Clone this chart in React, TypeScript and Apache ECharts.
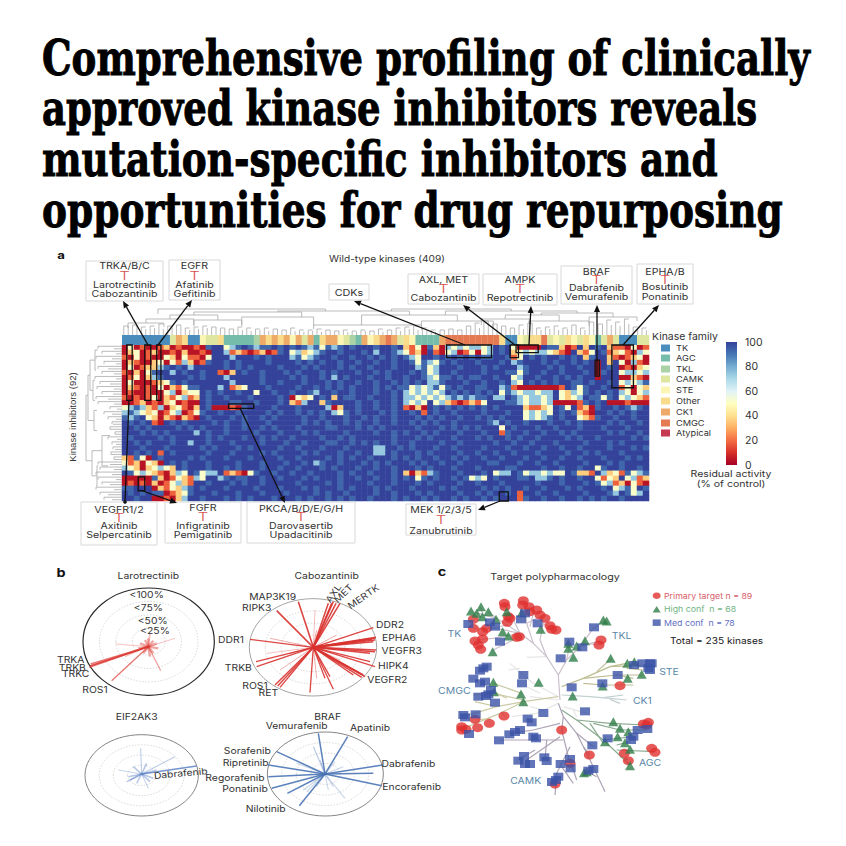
import React, { useEffect, useRef } from "react";
import * as echarts from "echarts";

const titleLines = ["Comprehensive profiling of clinically", "approved kinase inhibitors reveals", "mutation-specific inhibitors and", "opportunities for drug repurposing"];
const titleWidths = [768, 715, 676, 741];
const titleBaselines = [75, 125, 176, 227];

const levelValues = [4, 18, 36, 52, 74, 93, 100];
const heatRows = [
  "0301001201001056634565455656 5654535456566656656 2130 520 4343 4434 656 30 00065 5201626 5621 10301",
  "0230120010200106641210120156 3423456656665646654 3120 610 3401 3034 656 23 43443 2106213 6512 31043",
  "1030100320311036664666565666 4534566566566565656 5436 656 5656 5655 665 13 65656 6565625 6621 01230",
  "0210023031420156656566665666 6565656656656656656 6535 435 6566 6566 656 45 66656 5665656 0626 30410",
  "0301224565646666656565666656 6656566656566566656 6645 346 6656 6656 566 64 56665 6566566 0656 01023",
  "1020356646566566102656656665 6566656566656656566 6565 346 6566 6656 665 53 56656 6566656 0566 34434",
  "0130245666656566646666656666 5656656465666566566 5665 435 5656 5566 566 34 66566 5656566 0666 00210",
  "0300012356566666664666656656 6656665656656656656 5656 445 6665 6656 656 43 65656 5665565 6656 34345",
  "0210103021355666461236665666 6566565656566656565 5343 453 5656 6556 645 10 00000 0165356 6566 13032",
  "0100100340233656566566366566 5665466566566656656 4343 434 6565 6565 635 43 44344 6324356 5656 43034",
  "1010130213412656656665666656 0323656265566566656 4434 343 4545 4556 446 54 34434 6323465 5356 34321",
  "0012010230100656665566566656 2146625666656656656 4343 634 2101 2136 665 54 34434 0000156 5600 01000",
  "3454214023102650001056666566 6566664026656656656 1020 656 5656 5656 566 66 21123 6536120 5665 65456",
  "4543230134013566566566665656 6565656435656665656 6561 656 6566 6656 665 66 34343 6565210 6656 56566",
  "5456320210210656665656656566 6656656665665656656 6656 565 6656 6565 656 66 34345 6566321 5665 66566",
  "6565610656566665656656665666 6656565665656656656 6565 656 6566 6665 465 66 56665 6656566 6656 56656",
  "6656566665656566656656656566 6566665566656565666 6656 665 6565 6566 636 56 66566 5666566 6566 65666",
  "6665656566664656656666566656 6656566665666656656 5665 656 6656 6656 615 66 56656 6565666 6656 56656",
  "6566665656666656566656656566 5666656656566666656 6656 566 6566 6565 665 65 66566 6656566 5666 66565",
  "6656566656646656665666656665 6656665566565656656 6566 665 6656 6666 566 56 65666 5666656 6656 56666",
  "6665666566666565666565666656 6566656665666644665 6566 656 6566 6656 665 66 56656 6566566 6656 66565",
  "6656561656666656665666656566 6656566656656644656 6656 566 6656 6566 566 56 66566 6656656 5666 56666",
  "2153065666656566656665666656 6566665656566566656 5656 656 6565 6656 656 66 56656 6566566 6566 65656",
  "3120320656566656666566656665 6656456656665656566 6565 665 6656 6665 566 65 66566 5666656 6656 56666",
  "4320234326566656656566656656 6566656566656656656 6656 566 6566 6566 665 56 66656 6566566 3566 56656",
  "6534321024365344612103566566 5665666656566566656 2021 456 6656 6656 344 65 34434 3365221 6423 15345",
  "0000052013214366456556656656 6656566656656656656 5635 656 6565 3436 566 65 56445 6566566 3132 63412",
  "0101020134216656665656656666 6566665656666566656 6656 566 6656 6566 656 66 66566 6566656 5341 20310",
  "5566602132456566656666566656 6656566656566656566 6566 665 6566 6656 565 66 56656 6656566 6563 45365",
  "6565655012356665666566656665 6666565665666656656 6656 566 6656 6565 665 61 66566 5666656 6654 65346",
  "6656600102466566656565666566 6565665656566566656 5665 656 6565 6656 566 61 56656 6566565 6566 56666",
];
const columnCount = 88;
const heatColors = ["#a50026", "#d73027", "#f46d43", "#fdae61", "#fee090", "#ffffbf", "#e0f3f8", "#abd9e9", "#74add1", "#4575b4", "#34429a"];

const familyNames = ["TK", "AGC", "TKL", "CAMK", "STE", "Other", "CK1", "CMGC", "Atypical"];
const familyCodes = "TASCLOKMY";
const familyColors = ["#4a8cbc", "#76bcab", "#dfe6a0", "#fbf6b3", "#a9d3a6", "#f8dc8c", "#eeaa68", "#e57a52", "#c53a52"];
const familyLegendColors = ["#4a8cbc", "#76bcab", "#a9d3a6", "#dfe6a0", "#fbf6b3", "#f8dc8c", "#eeaa68", "#e57a52", "#c53a52"];
const familyBand = "TTTTTTTTSKOTTCSSOAAAAALKOKOKCKSKAOKKCSLAKCOKMKSOCAAAAKMMMMMMMMMOTTCSOOMSCSOCSOCASKSTTTSS";

const colorbarTicks = [100];
const blackBoxes = [
  [0.8, 0, 1.7, 11], [3.8, 0, 4.8, 11], [5.8, 0, 6.5, 11], [2.7, 26.2, 3.8, 29], [17.8, 11.7, 22, 12.6],
  [54.2, 0, 61.7, 2.5], [64.8, 0, 66.2, 2.5], [65.8, 0, 69.5, 1.5], [79, 3, 79.7, 6.2], [81.8, 0, 85.4, 8.5], [63, 29.2, 64.5, 31],
];

const topTeeth = [7,9,6,10,8,6,9,7,11,6,8,9,6,10,7,5,8,6,9,7,5,8,6,7,5,6,8,5,7,4,6,5,7,4,5,6,4,5,7,4,5,3,5,4,6,3,4,5,3,4,5,3,4,3,5,4,3,4,6,3,4,5,7,4,8,6,9,5,7,4,5,3,4,5,3,6,4,5,6,9,12,7,10,14,8,11,6,9,5,7,10,6,9,12,7,5,8,6,9,5,7,6,8,10,7,5,9,13,8,11,15,10,13,9,16,11,8,6,7,5];
const topBrackets = [
  [1,7,12,7,8],[4,12,16,12,10],[12,20,15,9,10],[8,16,20,16,15],[20,32,18,9,9],[12,30,23,20,18],[32,50,10,6,5],[50,62,14,9,7],
  [40,56,20,10,14],[26,48,24,23,20],[6,34,26,21,24],[60,68,16,10,12],[68,78,14,10,9],[64,73,20,16,14],[78,86,18,12,14],[70,82,22,20,18],[54,76,24,20,22],[45,65,26,24,24],
];
const sideTeeth = [24,8,20,6,26,10,18,6,24,14,20,8,27,6,22,12,25,8,20,9,26,14,24,8,12,5,18,10,14,6,10,9,8,12,6,7,14,5,10,6,9,7,8,11,6,8,24,12,22,8,26,10,24,6,20,12,26,8,22,14,18,10];
const sideBrackets = [
  [1,5,27,24,26],[7,11,29,27,27],[3,9,32,27,29],[13,17,28,25,25],[6,15,34,32,28],[18,24,20,12,14],[24,28,25,24,26],[21,26,30,20,25],[10,23,36,34,30],
];

const larotrectinibSpokes = [[120,318,1.8,0.9],[118,322,1.4,0.7],[122,312,1.4,0.7],[185,362,1.3,0.7],[332,332,1.3,0.45],[375,235,0.9,0.35],[198,252,0.9,0.35],[225,290,1,0.35],[300,220,1.6,0.35],[270,250,2.4,0.45],[320,250,2.4,0.45],[310,280,2.4,0.45],[280,280,2.4,0.45],[295,235,2.4,0.45],[300,290,2.4,0.45],[265,265,2.4,0.45],[325,265,2.4,0.45],[285,240,2.4,0.45],[310,242,2.4,0.45]];
const cabozantinibSpokes = [[745,125,1.6,0.9],[680,152,1.6,0.9],[600,238,1.3,0.9],[618,305,1.4,0.9],[620,320,1.4,0.9],[675,375,1.4,0.9],[690,382,1.4,0.9],[683,378,1.4,0.9],[780,398,1.3,0.9],[850,388,1.3,0.9],[825,355,1.3,0.9],[840,350,1.3,0.9],[945,350,1.5,0.9],[940,345,1.5,0.9],[930,340,1.5,0.9],[935,352,1.5,0.9],[910,345,1.5,0.9],[975,320,1.2,0.9],[960,305,1.2,0.9],[975,275,1.5,0.9],[978,270,1.5,0.9],[960,280,1.5,0.9],[975,240,1.5,0.9],[978,232,1.5,0.9],[975,235,1.5,0.9],[970,245,1.5,0.9],[965,238,1.5,0.9],[970,203,1.2,0.9],[845,130,1.5,0.9],[858,130,1.5,0.9],[870,130,1.5,0.9],[850,125,1.5,0.9],[835,130,1.5,0.9],[660,235,1,0.4],[690,330,1,0.4],[715,350,1,0.4],[720,280,1,0.4],[800,355,1,0.4],[860,225,1,0.4],[800,210,1,0.4],[795,150,1,0.3],[870,300,1,0.4],[650,280,1,0.3]];
const eif2ak3Spokes = [[440,618,1.6,0.85],[375,590,1.1,0.4],[272,565,1.1,0.4],[205,630,0.9,0.4],[295,685,1,0.4],[230,665,1.6,0.4],[240,660,1.6,0.4],[310,655,1.6,0.45],[320,630,1.6,0.4],[250,620,1.6,0.45],[290,610,1.6,0.45],[235,650,1.6,0.45],[300,665,1.6,0.45],[260,670,1.6,0.4]];
const brafSpokes = [[805,520,1.5,0.9],[893,530,1.5,0.9],[680,575,1.5,0.9],[655,615,1.5,0.9],[655,650,1.5,0.9],[665,685,1.5,0.9],[748,737,1.5,0.9],[712,700,1.5,0.9],[998,615,1.5,0.9],[970,640,1.5,0.9],[995,677,1.5,0.9],[790,560,1.3,0.35],[740,610,1.1,0.3],[760,690,1.1,0.3],[885,715,1.1,0.3],[835,690,1.1,0.3],[880,620,1.1,0.3],[810,600,1.1,0.3],[855,605,1.1,0.3],[770,695,1.1,0.3],[850,680,1.1,0.3],[800,680,1.1,0.3]];
const radarCenters = [[295,260],[790,262],[275,642],[825,642]];
const radarColors = ["#dd3b35", "#d8322f", "#5b83c6", "#4a74b5"];
const radarOuter = [[296,245,197,161],[789,262,191,146],[275,646,170,122],[826,642,174,126]];
const outerColors = ["#2a2a2a", "#8d8d8d", "#666666", "#666666"];
const ringFractions = [0.25, 0.5, 0.75];

const primaryTargets = [[223,130],[225,140],[280,122],[278,135],[297,140],[320,150],[300,155],[330,165],[345,175],[235,170],[240,175],[232,187],[130,178],[130,205],[158,215],[170,205],[158,237],[135,243],[145,255],[152,268],[360,197],[365,208],[378,210],[268,230],[260,232],[513,240],[507,255],[570,377],[222,468],[178,490],[135,478],[95,500],[95,510],[108,508],[143,503],[395,510],[478,585],[420,610],[375,672],[655,487],[640,492],[650,495],[665,565],[675,577],[583,580],[595,602]];
const highConfidence = [[123,153],[153,140],[175,155],[140,160],[157,170],[198,178],[230,155],[275,158],[218,215],[235,228],[332,208],[188,275],[520,180],[530,183],[415,250],[415,265],[465,242],[440,258],[430,292],[542,295],[592,310],[613,305],[635,343],[593,355],[518,378],[428,408],[326,367],[190,367],[192,395],[273,402],[280,425],[550,485],[570,505],[595,515],[563,530],[525,545],[585,548],[600,568],[600,617],[462,638],[470,635]];
const mediumConfidence = [[115,192],[180,187],[195,200],[273,178],[285,160],[323,190],[210,245],[492,202],[418,245],[457,262],[392,295],[170,320],[160,325],[150,332],[130,356],[165,365],[150,370],[183,390],[175,403],[168,408],[145,410],[195,428],[280,345],[276,370],[425,382],[563,345],[517,370],[612,315],[637,310],[660,310],[665,310],[655,325],[660,330],[340,459],[465,454],[137,463],[100,465],[105,472],[293,476],[305,487],[117,522],[207,541],[238,523],[255,516],[270,510],[310,530],[318,535],[487,556],[533,535],[623,510],[652,507],[610,530],[603,540],[282,588],[265,602],[285,612],[300,612],[343,592],[350,603],[392,612],[420,597],[422,625],[490,627],[475,632],[385,650],[378,660],[366,666]];

const treeBranches: [string, number[][][]][] = [
  ["#e6e6e6", [[[385,410],[310,370],[240,310]],[[385,430],[320,460],[245,470]],[[400,440],[470,460]],[[385,420],[300,410]],[[350,290],[290,292]],[[330,400],[290,380]],[[310,370],[270,340]],[[340,450],[300,440]],[[430,450],[440,470]],[[270,325],[235,330]]]],
  ["#c9c0cc", [[[390,420],[385,345],[350,290],[310,250],[270,220],[200,175],[125,155]],[[310,250],[290,190],[285,140]],[[270,220],[240,160]],[[350,290],[330,240],[340,190],[370,210]],[[270,220],[190,235],[135,240]],[[250,240],[185,272]],[[270,220],[200,205],[130,205]],[[230,195],[160,210]],[[290,190],[330,170]],[[200,175],[175,155]],[[160,165],[150,140]],[[240,160],[225,130]],[[300,200],[310,160]]]],
  ["#cdbfc8", [[[385,345],[410,300],[450,260],[500,245]],[[410,300],[420,250]],[[450,260],[490,205],[525,182]],[[440,275],[465,245]],[[470,250],[510,255]]]],
  ["#bdbd92", [[[395,380],[460,355],[540,320],[660,315]],[[460,355],[560,345],[640,345]],[[460,370],[520,375],[610,375]],[[540,320],[590,310]],[[500,335],[545,295]],[[560,345],[610,355]],[[590,325],[640,330]]]],
  ["#c3d0d0", [[[395,405],[480,410],[540,415],[590,420]],[[520,413],[580,405]],[[540,418],[570,430]]]],
  ["#8aab90", [[[395,450],[440,480],[540,490],[650,495]],[[440,480],[520,540],[600,615]],[[490,490],[570,510],[650,510]],[[520,540],[610,530]],[[560,570],[675,575]],[[480,490],[520,550]],[[560,555],[600,545]],[[570,590],[595,600]]]],
  ["#ada3b6", [[[385,430],[400,470],[440,520],[480,600],[525,695]],[[400,470],[395,510],[420,610]],[[420,560],[380,640],[375,705]],[[400,540],[310,540],[210,540]],[[390,490],[310,510],[240,520]],[[440,520],[490,560]],[[420,600],[440,660]],[[390,530],[290,600]],[[350,540],[345,600]],[[460,560],[480,585]],[[500,650],[480,640]],[[395,620],[430,670]],[[315,570],[265,600]]]],
  ["#cbcba6", [[[385,410],[280,425],[200,440],[135,425]],[[280,425],[210,460],[100,505]],[[280,420],[190,400],[130,405]],[[275,400],[190,370]],[[200,440],[100,470]],[[230,415],[180,390]],[[180,475],[140,480]],[[215,455],[225,470]]]],
];

const calloutBoxes: [number, number, number, number, string[], number[]][] = [
  [86, 261, 77, 40, ["TRKA/B/C", "Larotrectinib", "Cabozantinib"], [266, 276, 285, 294]],
  [169, 260, 51, 40, ["EGFR", "Afatinib", "Gefitinib"], [266, 276, 285, 294]],
  [408, 274, 71, 30, ["AXL, MET", "Cabozantinib"], [280, 289, 298]],
  [483, 274, 74, 31, ["AMPK", "Repotrectinib"], [280, 289, 298]],
  [561, 266, 71, 38, ["BRAF", "Dabrafenib", "Vemurafenib"], [272, 280, 288, 297]],
  [637, 264, 56, 40, ["EPHA/B", "Bosutinib", "Ponatinib"], [272, 280, 287, 297]],
  [81, 502, 76, 43, ["VEGFR1/2", "Axitinib", "Selpercatinib"], [510, 518, 526, 535]],
  [165, 502, 76, 41, ["FGFR", "Infigratinib", "Pemigatinib"], [508, 517, 526, 535]],
  [247, 502, 108, 41, ["PKCA/B/D/E/G/H", "Darovasertib", "Upadacitinib"], [509, 517, 526, 535]],
  [406, 504, 70, 31, ["MEK 1/2/3/5", "Zanubrutinib"], [510, 520, 531]],
];
const arrows = [[148,345,123,301],[158,345,192,300],[465,345,354,301],[515,345,463,305],[529,345,531,306],[597,375,597,305],[623,345,659,305],[140,490,177,503],[240,408,285,503],[500,501,478,510]];

const radarLabels: [string, number, number, number?][] = [
  ["Larotrectinib",295,47],["Cabozantinib",830,47],["EIF2AK3",260,470],["BRAF",833,470],
  ["<100%",290,103],["<75%",295,143],["<50%",308,182],["<25%",315,213],["TRKA",62,300],["TRKB",67,322],["TRKC",77,342],["ROS1",135,388],
  ["MAP3K19",668,110],["RIPK3",620,143],["DDR1",543,240],["TRKB",565,322],["ROS1",615,378],["RET",655,397],["DDR2",1020,193],["EPHA6",1047,232],["VEGFR3",1055,273],["HIPK4",1030,318],["VEGFR2",1012,360],
  ["AXL",850,100,55],["MET",880,100,45],["MERTK",940,110,35],
  ["Dabrafenib",392,640,5],["Vemurafenib",740,497],["Apatinib",960,503],["Sorafenib",592,572],["Ripretinib",587,608],["Regorafenib",555,652],["Ponatinib",585,687],["Nilotinib",647,747],["Dabrafenib",1075,612],["Encorafenib",1085,680],
];
const treeLabels: [string, number, number][] = [["TK",73,220],["TKL",575,225],["STE",717,333],["CK1",637,420],["AGC",660,608],["CAMK",287,662],["CMGC",73,392]];
const legendEntries: [string, string][] = [["Primary target n = 89", "#d9606a"], ["High conf  n = 68", "#72b585"], ["Med conf  n = 78", "#5f6fc0"]];

const FONT = "Inter, 'Noto Sans', sans-serif";

function txt(text: string, x: number, y: number, o: any = {}) {
  const { size = 9, color = "#333", align = "center", weight = "normal", family = FONT, rotation = 0, scaleX = 1, stroke, lineWidth } = o;
  const style: any = { text, fill: color, fontSize: size, fontWeight: weight, fontFamily: family, align, verticalAlign: "middle", textAlign: align, textVerticalAlign: "middle" };
  if (stroke) { style.stroke = stroke; style.lineWidth = lineWidth; }
  return { type: "text", x, y, rotation, scaleX, z: 20, silent: true, style };
}

function arrowElements(x1: number, y1: number, x2: number, y2: number) {
  const a = Math.atan2(y2 - y1, x2 - x1);
  const l = 7, w = 3;
  const bx = x2 - l * Math.cos(a), by = y2 - l * Math.sin(a);
  return [
    { type: "line", z: 19, silent: true, shape: { x1, y1, x2: bx, y2: by }, style: { stroke: "#111", lineWidth: 1.3 } },
    { type: "polygon", z: 19, silent: true, shape: { points: [[x2, y2], [bx + w * Math.sin(a), by - w * Math.cos(a)], [bx - w * Math.sin(a), by + w * Math.cos(a)]] }, style: { fill: "#111" } },
  ];
}

function buildGraphics() {
  const els: any[] = [];
  const ctx = document.createElement("canvas").getContext("2d")!;
  const family = "'DejaVu Serif', serif";
  ctx.font = `bold 49px ${family}`;
  titleLines.forEach((t, i) => {
    const scaleX = titleWidths[i] / ctx.measureText(t).width;
    els.push(txt(t, 42, titleBaselines[i] - 17, { size: 49, weight: "bold", family, color: "#000", align: "left", scaleX, stroke: "#000", lineWidth: 1 }));
  });
  els.push(txt("a", 61, 255, { weight: "bold", size: 11, color: "#111", scaleX: 1.2 }));
  els.push(txt("b", 61, 572, { weight: "bold", size: 12, color: "#111", scaleX: 1.2 }));
  els.push(txt("c", 442, 571, { weight: "bold", size: 12, color: "#111", scaleX: 1.2 }));
  els.push(txt("Wild-type kinases (409)", 387, 259, { size: 9, scaleX: 1.13 }));
  els.push(txt("Kinase inhibitors (92)", 72, 417, { size: 9.5, rotation: Math.PI / 2, family: "'Liberation Sans Narrow','Liberation Sans',sans-serif" }));
  els.push({ type: "rect", z: 17, silent: true, shape: { x: 329, y: 284, width: 40, height: 16 }, style: { fill: "#fff", stroke: "#d8d8d8", lineWidth: 1 } });
  els.push(txt("CDKs", 349, 292, { scaleX: 1.2 }));
  calloutBoxes.forEach(([x, y, w, h, lines, ys]) => {
    els.push({ type: "rect", z: 17, silent: true, shape: { x, y, width: w, height: h }, style: { fill: "#fff", stroke: "#d8d8d8", lineWidth: 1 } });
    const cx = x + w / 2;
    els.push(txt(lines[0], cx, ys[0], { size: 8.5, scaleX: 1.25 }));
    els.push(txt("T", cx, ys[1], { size: 11, color: "#d9534f", weight: 300, scaleX: 1.5 }));
    lines.slice(1).forEach((l, i) => els.push(txt(l, cx, ys[i + 2], { size: 8.5, scaleX: 1.25 })));
  });
  arrows.forEach(([a, b, c, d]) => els.push(...arrowElements(a, b, c, d)));
  els.push({ type: "line", z: 19, silent: true, shape: { x1: 129, y1: 400, x2: 125, y2: 502 }, style: { stroke: "#111", lineWidth: 1.3 } });
  els.push({ type: "circle", z: 19, silent: true, shape: { cx: 125, cy: 502, r: 1.8 }, style: { fill: "#111" } });
  els.push(txt("Kinase family", 652, 336, { align: "left", size: 9.5, scaleX: 1.1 }));
  const legendYs = [348, 358, 369, 379, 390, 401, 412, 423, 433];
  familyNames.forEach((n, i) => {
    els.push({ type: "rect", z: 17, silent: true, shape: { x: 661, y: legendYs[i] - 3.5, width: 9, height: 7 }, style: { fill: familyLegendColors[i] } });
    els.push(txt(n, 676, legendYs[i], { align: "left", size: 8, scaleX: 1.15 }));
  });
  els.push(txt("Residual activity", 731, 474, { size: 9, scaleX: 1.17 }));
  els.push(txt("(% of control)", 731, 484, { size: 9, scaleX: 1.17 }));
  radarLabels.forEach(([t, x, y, rot]) => {
    els.push(txt(t, 50 + x / 3, 560 + y / 3, { size: 9, scaleX: 1.15, rotation: rot ? (rot * Math.PI) / 180 : 0 }));
  });
  treeLabels.forEach(([t, x, y]) => els.push(txt(t, 430 + x / 3, 560 + y / 3, { color: "#5b87a8", size: 9.5, scaleX: 1.1 })));
  els.push(txt("Target polypharmacology", 555, 576, { size: 9, scaleX: 1.19 }));
  legendEntries.forEach(([t, c], i) => els.push(txt(t, 664, [596, 609, 623][i], { align: "left", color: c, size: 8, scaleX: 1.1 })));
  els.push(txt("Total = 235 kinases", 670, 641, { align: "left", size: 8.5, color: "#222", scaleX: 1.19 }));
  return els;
}

function hiddenAxis(gridIndex: number, min: number, max: number, inverse = false) {
  return { type: "value", gridIndex, min, max, inverse, show: false, splitLine: { show: false }, scale: true };
}

function buildOption() {
  const rows = heatRows.map((r) => r.replace(/ /g, "").padEnd(columnCount, "6"));
  const heat: number[][] = [];
  rows.forEach((r, y) => { for (let x = 0; x < columnCount; x++) heat.push([x, y, levelValues[+r[x]]]); });
  const idx = (arr: any[]) => arr.map((_, i) => [i, 0]);
  const seg = (api: any, a: number[], b: number[], style: any) => {
    const p = api.coord(a), q = api.coord(b);
    return { type: "line", shape: { x1: p[0], y1: p[1], x2: q[0], y2: q[1] }, style };
  };
  const grey = { stroke: "#a9a9a9", lineWidth: 0.8, fill: null };
  const allSpokes = [larotrectinibSpokes, cabozantinibSpokes, eif2ak3Spokes, brafSpokes];
  const topX = (i: number) => (i * columnCount) / topTeeth.length;
  const sideY = (i: number) => (i * heatRows.length) / sideTeeth.length;
  const treeLines: { c: string; p: number[][] }[] = [];
  treeBranches.forEach(([c, ls]) => ls.forEach((p) => treeLines.push({ c, p })));
  const grids = [
    { left: 122, top: 345, width: 527, height: 156 },
    { left: 122, top: 345, width: 527, height: 156 },
    { left: 122, top: 305, width: 527, height: 40 },
    { left: 85, top: 345, width: 37, height: 156 },
    { left: 726, top: 342, width: 11, height: 123 },
    { left: 50, top: 560, width: 380, height: 270 },
    { left: 430, top: 560, width: 370, height: 270 },
  ];
  const xAxis: any[] = [
    { type: "category", gridIndex: 0, show: false, data: Array.from({ length: columnCount }, (_, i) => i) },
    hiddenAxis(1, 0, columnCount),
    hiddenAxis(2, 0, columnCount),
    hiddenAxis(3, 0, 37, true),
    { type: "category", gridIndex: 4, show: false, data: ["activity"] },
    hiddenAxis(5, 0, 1140),
    hiddenAxis(6, 0, 1110),
  ];
  const yAxis: any[] = [
    { type: "category", gridIndex: 0, show: false, inverse: true, data: heatRows.map((_, i) => i) },
    hiddenAxis(1, 0, heatRows.length, true),
    hiddenAxis(2, 0, 40),
    hiddenAxis(3, 0, heatRows.length, true),
    {
      type: "value", gridIndex: 4, min: 0, max: 100, interval: 20, position: "right",
      axisLine: { show: false }, axisTick: { show: false }, splitLine: { show: false },
      axisLabel: { fontFamily: FONT, fontSize: 10.5, color: "#333", margin: 8 },
    },
    hiddenAxis(5, 0, 810, true),
    hiddenAxis(6, 0, 810, true),
  ];
  const custom = (i: number, data: any[], renderItem: any, extra: any = {}) => ({
    type: "custom", xAxisIndex: i, yAxisIndex: i, data, renderItem, silent: true, clip: false, animation: false, ...extra,
  });
  const series: any[] = [
    { type: "heatmap", xAxisIndex: 0, yAxisIndex: 0, data: heat, silent: true, progressive: 0, emphasis: { disabled: true } },
    custom(1, blackBoxes, (_: any, api: any) => {
      const p = api.coord([api.value(0), api.value(1)]), q = api.coord([api.value(2), api.value(3)]);
      return { type: "rect", shape: { x: p[0], y: p[1], width: q[0] - p[0], height: q[1] - p[1] }, style: { fill: "rgba(0,0,0,0)", stroke: "#111", lineWidth: 1.3 } };
    }, { z: 5 }),
    custom(2, idx(familyBand.split("")), (params: any, api: any) => {
      const i = params.dataIndex;
      const p = api.coord([i, 10]), q = api.coord([i + 1, 0]);
      const c = familyColors[familyCodes.indexOf(familyBand[i])] || "#ddd";
      return { type: "rect", shape: { x: p[0], y: p[1], width: q[0] - p[0] + 0.3, height: q[1] - p[1] }, style: { fill: c } };
    }),
    custom(2, idx(topTeeth), (params: any, api: any) => {
      const i = params.dataIndex, h = topTeeth[i], x = topX(i) + 0.3;
      const children: any[] = [seg(api, [x, 10], [x, 10 + h], grey)];
      if (i % 2 === 0 && i + 1 < topTeeth.length) {
        const nx = topX(i + 1) + 0.3, top = 10 + Math.max(h, topTeeth[i + 1]);
        children.push(seg(api, [x, top], [nx, top], grey), seg(api, [x, 10 + h], [x, top], grey));
      }
      return { type: "group", children };
    }),
    custom(2, topBrackets, (params: any, api: any) => {
      const [a, b, h, h0, h1] = topBrackets[params.dataIndex];
      return { type: "group", children: [seg(api, [a, 10 + h], [b, 10 + h], grey), seg(api, [a, 10 + h0], [a, 10 + h], grey), seg(api, [b, 10 + h1], [b, 10 + h], grey)] };
    }),
    custom(3, idx(sideTeeth), (params: any, api: any) => {
      const i = params.dataIndex, d = sideTeeth[i], y = sideY(i) + 0.25;
      const children: any[] = [seg(api, [0, y], [d, y], grey)];
      if (i % 2 === 0 && i + 1 < sideTeeth.length) {
        const m = Math.max(d, sideTeeth[i + 1]);
        children.push(seg(api, [m, y], [m, sideY(i + 1) + 0.25], grey), seg(api, [d, y], [m, y], grey));
      }
      return { type: "group", children };
    }),
    custom(3, sideBrackets, (params: any, api: any) => {
      const [a, b, d, d0, d1] = sideBrackets[params.dataIndex];
      return { type: "group", children: [seg(api, [d, a], [d, b], grey), seg(api, [d0, a], [d, a], grey), seg(api, [d1, b], [d, b], grey)] };
    }),
    {
      type: "bar", xAxisIndex: 4, yAxisIndex: 4, data: colorbarTicks, barWidth: "100%", silent: true,
      itemStyle: { color: { type: "linear", x: 0, y: 1, x2: 0, y2: 0, colorStops: heatColors.map((c, i) => ({ offset: i / (heatColors.length - 1), color: c })) } },
    },
    custom(5, radarOuter, (params: any, api: any) => {
      const [cx, cy, rx, ry] = radarOuter[params.dataIndex];
      const c = api.coord([cx, cy]);
      const s = api.size([rx, ry]);
      const children: any[] = ringFractions.map((f) => ({
        type: "ellipse", shape: { cx: c[0], cy: c[1], rx: s[0] * f, ry: s[1] * f },
        style: { fill: "rgba(0,0,0,0)", stroke: "#d2d2d2", lineWidth: 0.8, lineDash: [1.5, 1.5] },
      }));
      children.push({ type: "ellipse", shape: { cx: c[0], cy: c[1], rx: s[0], ry: s[1] }, style: { fill: "rgba(0,0,0,0)", stroke: outerColors[params.dataIndex], lineWidth: params.dataIndex === 0 ? 1.2 : 0.8 } });
      return { type: "group", children };
    }),
    ...allSpokes.map((spokes, k) =>
      custom(5, spokes, (_: any, api: any) => seg(api, radarCenters[k], [api.value(0), api.value(1)], { stroke: radarColors[k], lineWidth: api.value(2), opacity: api.value(3) }))
    ),
    custom(6, idx(treeLines), (params: any, api: any) => {
      const t = treeLines[params.dataIndex];
      return { type: "polyline", shape: { points: t.p.map((q) => api.coord(q)) }, style: { stroke: t.c, lineWidth: 1.2, fill: null, lineJoin: "round" } };
    }),
    { type: "scatter", xAxisIndex: 6, yAxisIndex: 6, data: primaryTargets, symbol: "circle", symbolSize: [11, 9], itemStyle: { color: "#e0312f" }, silent: true, z: 4 },
    { type: "scatter", xAxisIndex: 6, yAxisIndex: 6, data: highConfidence, symbol: "triangle", symbolSize: [10, 9], itemStyle: { color: "#2f7d48" }, silent: true, z: 4 },
    { type: "scatter", xAxisIndex: 6, yAxisIndex: 6, data: mediumConfidence, symbol: "rect", symbolSize: [10, 8], itemStyle: { color: "#3b52a6" }, silent: true, z: 4 },
    { type: "scatter", xAxisIndex: 6, yAxisIndex: 6, data: [[680, 107]], symbol: "circle", symbolSize: [8, 6.5], itemStyle: { color: "#e0312f" }, silent: true, z: 4 },
    { type: "scatter", xAxisIndex: 6, yAxisIndex: 6, data: [[680, 148]], symbol: "triangle", symbolSize: [8, 6.5], itemStyle: { color: "#2f7d48" }, silent: true, z: 4 },
    { type: "scatter", xAxisIndex: 6, yAxisIndex: 6, data: [[680, 188]], symbol: "rect", symbolSize: [8, 6.5], itemStyle: { color: "#3b52a6" }, silent: true, z: 4 },
  ];
  return {
    animation: false,
    backgroundColor: "#fff",
    grid: grids,
    xAxis,
    yAxis,
    visualMap: { show: false, seriesIndex: 0, min: 0, max: 100, inRange: { color: heatColors }, dimension: 2 },
    series,
    graphic: { elements: buildGraphics() },
  };
}

export default function App() {
  const ref = useRef<HTMLDivElement>(null);
  useEffect(() => {
    document.body.style.margin = "0";
    const chart = echarts.init(ref.current!, undefined, { renderer: "svg" });
    chart.setOption(buildOption() as any);
    return () => chart.dispose();
  }, []);
  return <div ref={ref} style={{ width: 846, height: 846 }} />;
}
